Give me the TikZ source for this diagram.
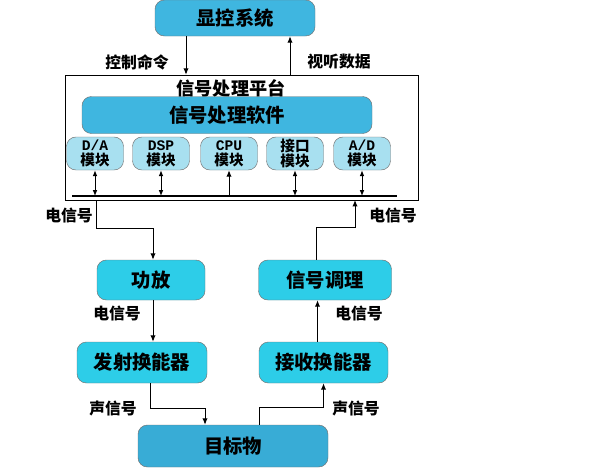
\documentclass[tikz,border=0pt]{standalone}
\usepackage{fontspec}
\setmainfont{Noto Sans CJK SC}
\newfontfamily\modmono{Liberation Mono}
\usepackage{tikz}
\usetikzlibrary{arrows.meta,positioning,calc}
\newdimen\unitpx
\unitpx=0.03cm
\definecolor{boxcyan}{HTML}{2DCDE8}
\definecolor{topblue}{HTML}{3FB6E0}
\definecolor{tgtblue}{HTML}{38ACD6}
\definecolor{modblue}{HTML}{A8E0F0}
\tikzset{%
  % blocks
  blk/.style={draw=black!55, rounded corners=8pt, align=center, inner sep=0pt,
    font=\fontsize{16.5}{18}\selectfont\bfseries},
  unit/.style={blk, fill=boxcyan},
  host/.style={blk, fill=topblue},
  target/.style={blk, fill=tgtblue},
  modbox/.style={draw=black!55, rounded corners=8pt, fill=modblue, align=center,
    inner sep=0pt, minimum width=57\unitpx, minimum height=33\unitpx,
    font=\fontsize{12.5}{12.5}\selectfont\bfseries},
  platbox/.style={draw, inner sep=0pt},
  % edge styles
  rel/.style={-{Latex[length=5.5pt,width=4.5pt]}, thick},
  birel/.style={{Latex[length=5pt,width=4pt]}-{Latex[length=5pt,width=4pt]}, thick},
  bus/.style={very thick},
  lab/.style={font=\fontsize{13.5}{15}\selectfont\bfseries},
}
\newcommand{\modnode}[3]{%
  % #1 = node name, #2 = x position, #3 = upper line
  \node[modbox] (#1) at (#2,153.5) {#3\\模块};
}

\begin{document}
\begin{tikzpicture}[x=\unitpx, y=-\unitpx]
  \useasboundingbox (0,0) rectangle (600,470);

  \node[host, minimum width=160\unitpx, minimum height=36\unitpx] (xk) at (235,18) {显控系统};
  \node[platbox, minimum width=353\unitpx, minimum height=125\unitpx] (plat) at (241.5,137.5) {};
  \node[font=\fontsize{15.5}{17}\selectfont\bfseries, inner sep=0pt] (title) at (231,88) {信号处理平台};
  \node[host, minimum width=290\unitpx, minimum height=37\unitpx] (soft) at (227,115) {信号处理软件};

  \modnode{da}{95}{{\modmono D/A}}
  \modnode{dsp}{161}{{\modmono DSP}}
  \modnode{cpu}{229}{{\modmono CPU}}
  \modnode{port}{295}{接口}
  \modnode{ad}{362}{{\modmono A/D}}

  \coordinate (busL) at (72,196);
  \coordinate (busR) at (397,196);
  \draw[bus] (busL) -- (busR);

  \draw[birel] (da.south) -- (da.south |- busL);
  \draw[birel] (dsp.south) -- (dsp.south |- busL);
  \draw[rel] (cpu.south |- busL) -- (cpu.south);
  \draw[birel] (port.south) -- (port.south |- busL);
  \draw[birel] (ad.south) -- (ad.south |- busL);

  \node[unit, minimum width=108\unitpx, minimum height=40\unitpx] (gf) at (151,280) {功放};
  \node[unit, minimum width=133\unitpx, minimum height=40\unitpx] (tj) at (325,280) {信号调理};
  \node[unit, minimum width=130\unitpx, minimum height=41\unitpx] (fs) at (142,362.5) {发射换能器};
  \node[unit, minimum width=129\unitpx, minimum height=41\unitpx] (js) at (323.5,362.5) {接收换能器};
  \node[target, minimum width=190\unitpx, minimum height=42\unitpx] (mb) at (233,446) {目标物};

  \coordinate (eout) at (96,200);
  \coordinate (ein) at (355,200);

  % host <-> platform
  \draw[rel] ([xshift=-49\unitpx]xk.south) -- ([xshift=-49\unitpx]xk.south |- plat.north);
  \draw[rel] ([xshift=55\unitpx]xk.south |- plat.north) -- ([xshift=55\unitpx]xk.south);

  % transmit chain
  \draw[rel] (eout) -- ++(0,28) -| ([xshift=2\unitpx]gf.north);
  \draw[rel] ([xshift=2\unitpx]gf.south) -- ([xshift=2\unitpx]gf.south |- fs.north);
  \draw[rel] ([xshift=8\unitpx]fs.south) -- ++(0,25) -| ([xshift=-28\unitpx]mb.north);

  % receive chain
  \draw[rel] ([xshift=26\unitpx]mb.north) -- ++(0,-17) -| (js.south);
  \draw[rel] ([xshift=-6\unitpx]js.north) -- ([xshift=-6\unitpx]js.north |- tj.south);
  \draw[rel] ([xshift=-9\unitpx]tj.north) -- ++(0,-32) -| (ein);

  \node[lab] (l1) at (137,62) {控制命令};
  \node[lab] (l2) at (339,62) {视听数据};
  \node[lab] (l3) at (69,215) {电信号};
  \node[lab] (l4) at (393,215) {电信号};
  \node[lab] (l5) at (117,313) {电信号};
  \node[lab] (l6) at (359,313) {电信号};
  \node[lab] (l7) at (113,408) {声信号};
  \node[lab] (l8) at (356,408) {声信号};
\end{tikzpicture}
\end{document}
